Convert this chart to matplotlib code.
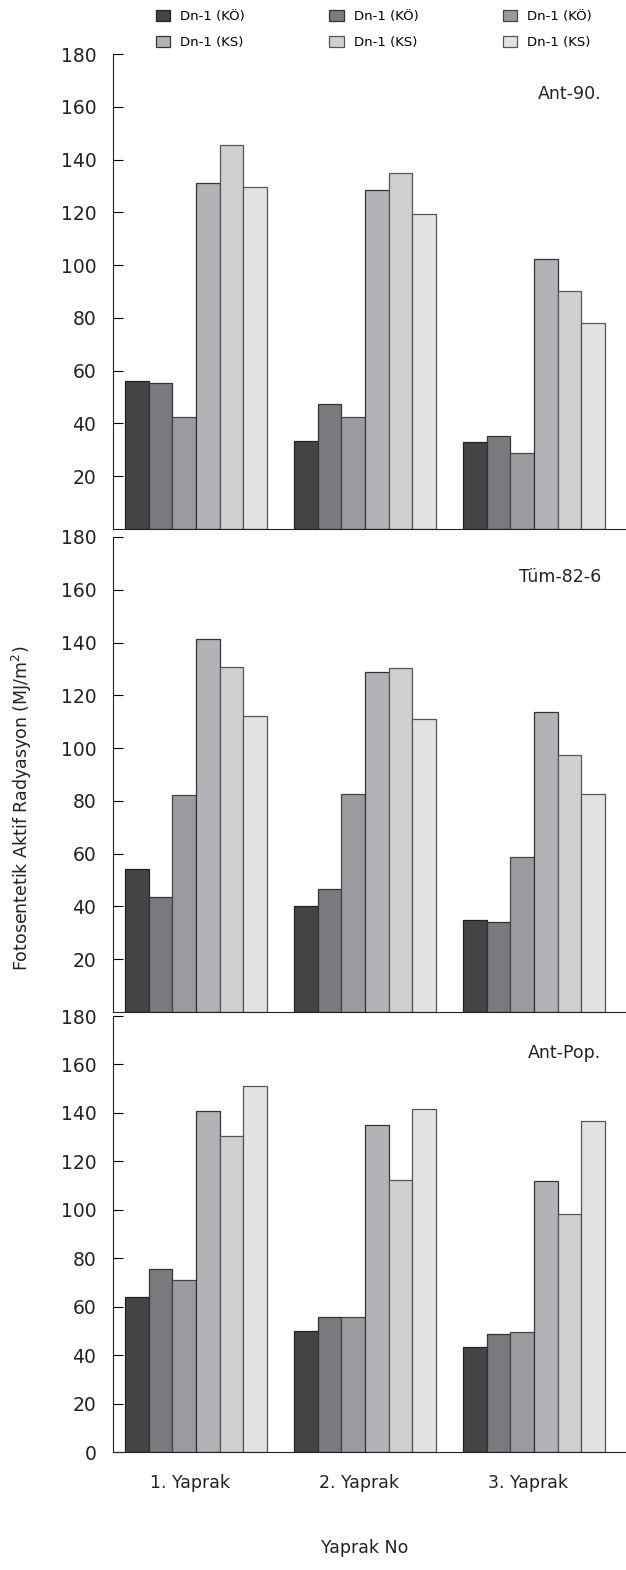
#!/usr/bin/env python3

import matplotlib
matplotlib.use("Agg")
import matplotlib.pyplot as plt
import numpy as np

leaves = ["1. Yaprak", "2. Yaprak", "3. Yaprak"]
series_labels = ["Dn-1 (KÖ)", "Dn-1 (KÖ)", "Dn-1 (KÖ)",
                 "Dn-1 (KS)", "Dn-1 (KS)", "Dn-1 (KS)"]
panel_names = ["Ant-90.", "Tüm-82-6", "Ant-Pop."]

# values[panel][series][leaf]
ant90 = [
    [56.2, 33.5, 32.8],
    [55.2, 47.2, 35.4],
    [42.6, 42.6, 28.9],
    [131.0, 128.3, 102.4],
    [145.6, 134.9, 90.3],
    [129.5, 119.2, 78.0],
]
tum826 = [
    [54.2, 40.0, 35.0],
    [43.5, 46.5, 34.0],
    [82.1, 82.6, 58.8],
    [141.5, 128.7, 113.5],
    [130.9, 130.2, 97.3],
    [112.0, 111.0, 82.6],
]
antpop = [
    [64.0, 49.8, 43.2],
    [75.6, 55.9, 48.8],
    [70.9, 55.9, 49.7],
    [140.8, 135.2, 111.9],
    [130.6, 112.4, 98.3],
    [151.3, 141.8, 136.7],
]

colors = ["#444547", "#7a7b7f", "#9a9b9f", "#b2b3b7", "#cfd0d2", "#e1e2e4"]
edges = ["#222222", "#333333", "#444444", "#333333", "#555555", "#555555"]


def main():
    fig = plt.figure(figsize=(6.26, 15.70), dpi=100)
    H = 1570.0
    W = 626.0
    left = 113 / W
    width = 1 - left
    # (top px, bottom px) of each panel
    spans = [(54, 529), (537, 1012), (1016, 1452)]

    x = np.arange(len(leaves))
    bw = 0.14
    handles = []
    for p, data in enumerate([ant90, tum826, antpop]):
        top, bot = spans[p]
        ax = fig.add_axes([left, 1 - bot / H, width, (bot - top) / H])
        for i, vals in enumerate(data):
            b = ax.bar(x + (i - 2.5) * bw, vals, bw, color=colors[i],
                       edgecolor=edges[i], linewidth=0.9, label=series_labels[i])
            if p == 0:
                handles.append(b)
        ax.set_xlim(-0.491, 2.544)
        ax.set_ylim(0, 180)
        ax.spines["top"].set_visible(False)
        ax.spines["right"].set_visible(False)
        ax.spines["left"].set_color("#222222")
        ax.spines["bottom"].set_color("#222222")
        if p < 2:
            ax.set_yticks(np.arange(20, 181, 20))
            ax.set_xticks([])
        else:
            ax.set_yticks(np.arange(0, 181, 20))
            ax.set_xticks(x - 0.035)
            ax.set_xticklabels(leaves, fontsize=12.5, color="#222222")
            ax.tick_params(axis="x", length=0, pad=16)
            ax.set_xlabel("Yaprak No", fontsize=12.5, color="#222222")
            ax.xaxis.set_label_coords(0.49, -0.199)
        ax.tick_params(axis="y", direction="in", length=7, width=0.8,
                       labelsize=13.5, labelcolor="#222222", pad=12)
        ax.text(0.952, 0.916, panel_names[p], transform=ax.transAxes,
                ha="right", va="center", fontsize=12.5, color="#222222")

    fig.text(22 / W, 1 - 808 / H, "Fotosentetik Aktif Radyasyon (MJ/m$^2$)",
             rotation=90, ha="center", va="center", fontsize=12.5, color="#222222")

    order = [0, 3, 1, 4, 2, 5]
    fig.legend([handles[i] for i in order], [series_labels[i] for i in order],
               ncol=3, loc="upper left", bbox_to_anchor=(147 / W, 1 - 1 / H),
               frameon=False, fontsize=9.5, handlelength=1.1, handleheight=1.0,
               columnspacing=6.4, labelspacing=0.95, handletextpad=0.75,
               borderpad=0.15)

    fig.savefig("out.png", dpi=100)


if __name__ == "__main__":
    main()
